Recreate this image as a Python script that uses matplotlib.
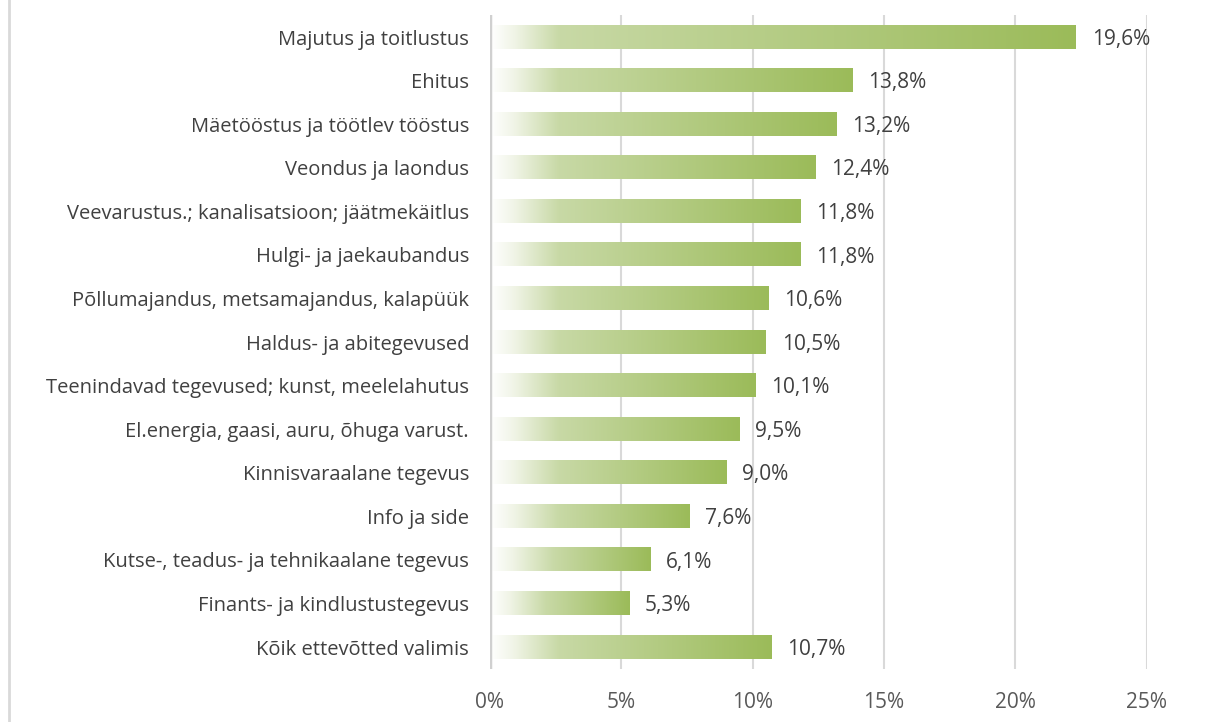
import numpy as np
import matplotlib.pyplot as plt
from matplotlib.colors import LinearSegmentedColormap
from matplotlib.lines import Line2D

categories = [
    "Majutus ja toitlustus",
    "Ehitus",
    "Mäetööstus ja töötlev tööstus",
    "Veondus ja laondus",
    "Veevarustus.; kanalisatsioon; jäätmekäitlus",
    "Hulgi- ja jaekaubandus",
    "Põllumajandus, metsamajandus, kalapüük",
    "Haldus- ja abitegevused",
    "Teenindavad tegevused; kunst, meelelahutus",
    "El.energia, gaasi, auru, õhuga varust.",
    "Kinnisvaraalane tegevus",
    "Info ja side",
    "Kutse-, teadus- ja tehnikaalane tegevus",
    "Finants- ja kindlustustegevus",
    "Kõik ettevõtted valimis",
]
# bar lengths as drawn in the picture (first bar is drawn longer than its label)
bar_values = [22.3, 13.8, 13.2, 12.4, 11.8, 11.8, 10.6, 10.5, 10.1, 9.5, 9.0, 7.6, 6.1, 5.3, 10.7]
value_labels = ["19,6%", "13,8%", "13,2%", "12,4%", "11,8%", "11,8%", "10,6%", "10,5%",
                "10,1%", "9,5%", "9,0%", "7,6%", "6,1%", "5,3%", "10,7%"]
xticks = [0, 5, 10, 15, 20, 25]
xtick_labels = ["0%", "5%", "10%", "15%", "20%", "25%"]

plt.rcParams['font.family'] = ['Open Sans', 'DejaVu Sans']

fig = plt.figure(figsize=(12.27, 7.22), dpi=100)
ax = fig.add_axes([0.3993, 0.0737, 0.5353, 0.9052])

n = len(categories)
ypos = np.arange(n)
bar_h = 0.53

for i, (y, v) in enumerate(zip(ypos, bar_values)):
    # white -> light green quickly, then to full green at the end
    t1 = min(2.6 / v, 0.4)
    cmap = LinearSegmentedColormap.from_list(
        f"g{i}", [(0, "#ffffff"), (t1 * 0.35, "#f0f4e6"), (t1, "#c8d9a6"), (1, "#9bbb59")])
    grad = np.linspace(0, 1, 256).reshape(1, -1)
    ax.imshow(grad, cmap=cmap, aspect='auto', extent=[0, v, y + bar_h / 2, y - bar_h / 2],
              zorder=2, interpolation='bilinear')
    ax.text(v + 0.6, y + 0.05, value_labels[i], va='center', ha='left', fontsize=15, color='#404040')

ax.set_xlim(0, 25)
ax.set_ylim(n - 0.5, -0.5)
ax.set_yticks(ypos)
ax.set_yticklabels(categories, fontsize=14.5, color='#404040')
ax.set_xticks(xticks)
ax.set_xticklabels(xtick_labels, fontsize=15, color='#595959')
ax.tick_params(axis='both', length=0)
ax.tick_params(axis='y', pad=15)
ax.tick_params(axis='x', pad=17)

for x in xticks[1:]:
    ax.axvline(x, color='#d9d9d9', lw=1.5, zorder=1)
ax.axvline(0, color='#d0d0d0', lw=2.5, zorder=3)

for s in ax.spines.values():
    s.set_visible(False)

# outer chart border on the left
fig.add_artist(Line2D([0.0075, 0.0075], [0, 1], transform=fig.transFigure, color='#d9d9d9', lw=2))

fig.savefig("out.png", dpi=100)
